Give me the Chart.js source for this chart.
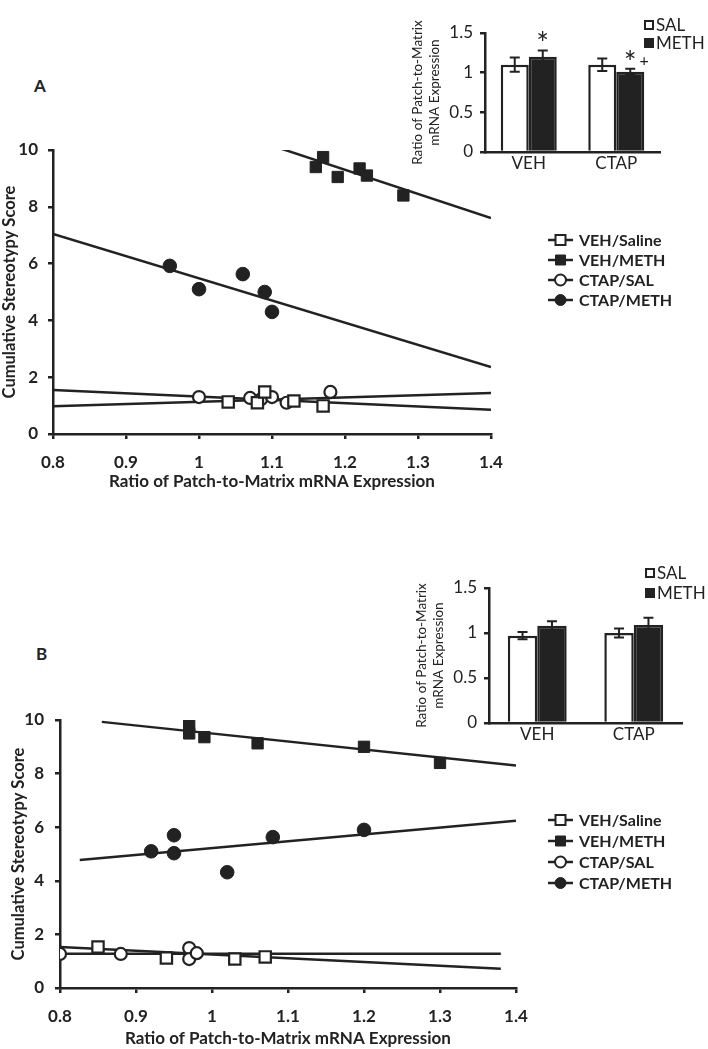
<!DOCTYPE html>
<html>
<head>
<meta charset="utf-8">
<script src="https://cdn.jsdelivr.net/npm/chart.js"></script>
<style>
    html, body { margin: 0; padding: 0; background: #fff; }
    body { width: 708px; height: 1049px; position: relative; overflow: hidden; font-family: Lato, 'Noto Sans', sans-serif; }
    canvas { position: absolute; }
    .panel { position: absolute; font: bold 17px Lato, sans-serif; color: #222; }
</style>
</head>
<body>
<div class="panel" style="left:34px;top:75px">A</div>
<div class="panel" style="left:36px;top:643px">B</div>
<canvas id="scatterA" width="708" height="406" style="left:0;top:90px"></canvas>
<canvas id="scatterB" width="708" height="409" style="left:0;top:640px"></canvas>
<canvas id="insetA" width="318" height="182" style="left:390px;top:0"></canvas>
<canvas id="insetB" width="318" height="200" style="left:390px;top:550px"></canvas>
<script>
const INK = '#222';
const seriesNames = ['VEH/Saline', 'VEH/METH', 'CTAP/SAL', 'CTAP/METH'];

// panel A scatter: [ratio, stereotypy score]
const vehSalA = [[1.04, 1.13], [1.08, 1.10], [1.09, 1.48], [1.13, 1.16], [1.17, 0.99]];
const vehMethA = [[1.16, 9.4], [1.17, 9.75], [1.19, 9.05], [1.22, 9.35], [1.23, 9.1], [1.28, 8.4]];
const ctapSalA = [[1.00, 1.30], [1.07, 1.27], [1.085, 1.22], [1.10, 1.30], [1.12, 1.10], [1.18, 1.48]];
const ctapMethA = [[0.96, 5.92], [1.00, 5.1], [1.06, 5.63], [1.09, 5.0], [1.10, 4.3]];
// trend lines, end points as drawn in the figure
const fitVehSalA = [[0.8, 1.55], [1.4, 0.85]];
const fitVehMethA = [[1.077, 10.35], [1.4, 7.6]];
const fitCtapSalA = [[0.8, 0.98], [1.4, 1.44]];
const fitCtapMethA = [[0.8, 7.04], [1.4, 2.36]];

// panel B scatter
const vehSalB = [[0.85, 1.53], [0.94, 1.12], [1.03, 1.08], [1.07, 1.16]];
const vehMethB = [[0.97, 9.81], [0.97, 9.5], [0.99, 9.36], [1.06, 9.13], [1.20, 9.0], [1.30, 8.4]];
const ctapSalB = [[0.80, 1.27], [0.88, 1.27], [0.97, 1.49], [0.97, 1.08], [0.98, 1.30]];
const ctapMethB = [[0.92, 5.1], [0.95, 5.7], [0.95, 5.03], [1.02, 4.32], [1.08, 5.63], [1.20, 5.9]];
const fitVehSalB = [[0.8, 1.53], [1.38, 0.72]];
const fitVehMethB = [[0.855, 9.93], [1.4, 8.3]];
const fitCtapSalB = [[0.8, 1.28], [1.38, 1.28]];
const fitCtapMethB = [[0.826, 4.78], [1.4, 6.24]];

// insets: mean ratio +/- error
const groups = ['VEH', 'CTAP'];
const salA = [1.10, 1.10];
const salErrA = [0.09, 0.08];
const methA = [1.20, 1.01];
const methErrA = [0.08, 0.04];
const methMarksA = ['*', '*+'];

const salB = [0.97, 1.00];
const salErrB = [0.04, 0.05];
const methB = [1.08, 1.09];
const methErrB = [0.05, 0.08];
const methMarksB = ['', ''];

function drawMarker(ctx, style, cx, cy, r, fill, lw) {
    ctx.beginPath();
    if (style === 'rect') ctx.rect(cx - r, cy - r, 2 * r, 2 * r);
    else ctx.arc(cx, cy, r, 0, Math.PI * 2);
    ctx.fillStyle = fill;
    ctx.fill();
    ctx.lineWidth = lw;
    ctx.strokeStyle = INK;
    ctx.stroke();
}

// Excel-like legend: short line with the marker in its middle
function lineLegend(x, ys) {
    return {
        id: 'lineLegend',
        afterDraw(chart) {
            const ctx = chart.ctx;
            const items = chart.data.datasets.filter(d => d.inLegend);
            ctx.save();
            ctx.font = 'bold 16px Lato, sans-serif';
            ctx.textBaseline = 'middle';
            items.forEach((d, i) => {
                const y = ys[i];
                ctx.beginPath();
                ctx.moveTo(x, y);
                ctx.lineTo(x + 25, y);
                ctx.lineWidth = 2.5;
                ctx.strokeStyle = INK;
                ctx.stroke();
                const open = d.backgroundColor === '#fff';
                drawMarker(ctx, d.pointStyle, x + 12.5, y, d.pointStyle === 'rect' ? 5 : 5.5, d.backgroundColor, open ? 2 : 1);
                ctx.fillStyle = INK;
                ctx.fillText(d.label, x + 31, y + 1);
            });
            ctx.restore();
        }
    };
}

function scatterPanel(id, sets, fits, lay) {
    const styles = [['rect', '#fff'], ['rect', INK], ['circle', '#fff'], ['circle', INK]];
    const datasets = sets.map((pts, i) => ({
        type: 'scatter',
        label: seriesNames[i],
        data: pts.map(p => ({ x: p[0], y: p[1] })),
        pointStyle: styles[i][0],
        pointRadius: styles[i][0] === 'rect' ? 8 : (styles[i][1] === '#fff' ? 6 : 6.8),
        backgroundColor: styles[i][1],
        borderColor: INK,
        borderWidth: styles[i][1] === '#fff' ? 2.2 : 1,
        inLegend: true,
        order: 1,
    }));
    fits.forEach(f => datasets.push({
        type: 'line',
        data: f.map(p => ({ x: p[0], y: p[1] })),
        borderColor: INK,
        borderWidth: 2.5,
        pointRadius: 0,
        fill: false,
        order: 2,
    }));

    new Chart(document.getElementById(id), {
        type: 'scatter',
        data: { datasets },
        plugins: [lineLegend(548, lay.legendY)],
        options: {
            responsive: false,
            animation: false,
            events: [],
            layout: { padding: { top: lay.top, right: lay.right, left: 0, bottom: 0 } },
            plugins: { legend: { display: false }, tooltip: { enabled: false } },
            scales: {
                x: {
                    type: 'linear',
                    min: 0.8,
                    max: 1.4,
                    ticks: {
                        stepSize: 0.1,
                        padding: 13,
                        color: INK,
                        font: { family: 'Lato', size: 17, weight: 'bold' },
                        callback: v => String(Math.round(v * 10) / 10),
                    },
                    grid: { drawOnChartArea: false, tickLength: 5, color: INK, lineWidth: 2.5 },
                    border: { color: INK, width: 2.5 },
                    title: {
                        display: true,
                        text: 'Ratio of Patch-to-Matrix mRNA Expression',
                        color: INK,
                        font: { family: 'Lato', size: 17, weight: 'bold' },
                        padding: { top: 0, bottom: lay.xTitlePad },
                    },
                    afterFit(s) { s.height = lay.xHeight; },
                },
                y: {
                    min: 0,
                    max: 10,
                    ticks: {
                        stepSize: 2,
                        padding: lay.yTickPad,
                        color: INK,
                        font: { family: 'Lato', size: 17, weight: 'bold' },
                    },
                    grid: { drawOnChartArea: false, tickLength: 5, color: INK, lineWidth: 2.5 },
                    border: { color: INK, width: 2.5 },
                    title: {
                        display: true,
                        text: 'Cumulative Stereotypy Score',
                        color: INK,
                        font: { family: 'Lato', size: 16.5, weight: 'bold' },
                        padding: { top: lay.yTitlePad, bottom: 0 },
                    },
                    afterFit(s) { s.width = lay.yWidth; },
                },
            },
        },
    });
}

const errorBars = {
    id: 'errorBars',
    afterDatasetsDraw(chart) {
        const ctx = chart.ctx;
        const y = chart.scales.y;
        chart.data.datasets.forEach((ds, i) => {
            chart.getDatasetMeta(i).data.forEach((bar, j) => {
                const v = ds.data[j], e = ds.errors[j];
                const top = y.getPixelForValue(v + e);
                const bot = y.getPixelForValue(v - e);
                ctx.save();
                ctx.strokeStyle = INK;
                ctx.lineWidth = 2;
                ctx.beginPath();
                ctx.moveTo(bar.x, top); ctx.lineTo(bar.x, bot);
                ctx.moveTo(bar.x - 5, top); ctx.lineTo(bar.x + 5, top);
                ctx.moveTo(bar.x - 5, bot); ctx.lineTo(bar.x + 5, bot);
                ctx.stroke();
                const mark = ds.marks && ds.marks[j];
                if (mark) {
                    ctx.fillStyle = INK;
                    ctx.textAlign = 'center';
                    ctx.textBaseline = 'alphabetic';
                    ctx.font = '30px Lato, sans-serif';
                    ctx.fillText('*', bar.x, top + 4);
                    if (mark.includes('+')) {
                        ctx.font = '16px Lato, sans-serif';
                        ctx.fillText('+', bar.x + 14, top - 3);
                    }
                }
                ctx.restore();
            });
        });
    }
};

function boxLegend(x, ys) {
    return {
        id: 'boxLegend',
        afterDraw(chart) {
            const ctx = chart.ctx;
            ctx.save();
            ctx.font = '17px Lato, sans-serif';
            ctx.textBaseline = 'middle';
            chart.data.datasets.forEach((d, i) => {
                ctx.beginPath();
                ctx.rect(x - 4, ys[i] - 4, 8, 8);
                ctx.fillStyle = d.backgroundColor;
                ctx.fill();
                ctx.lineWidth = 2;
                ctx.strokeStyle = INK;
                ctx.stroke();
                ctx.fillStyle = INK;
                ctx.fillText(d.label, x + 7, ys[i] + 1);
            });
            ctx.restore();
        }
    };
}

function insetPanel(id, sal, salErr, meth, methErr, marks, lay) {
    new Chart(document.getElementById(id), {
        type: 'bar',
        data: {
            labels: groups,
            datasets: [
                { label: 'SAL', data: sal, errors: salErr, backgroundColor: '#fff', borderColor: INK, borderWidth: 2.5 },
                { label: 'METH', data: meth, errors: methErr, marks, backgroundColor: INK, borderColor: INK, borderWidth: 2.5 },
            ],
        },
        plugins: [errorBars, boxLegend(lay.legendX, lay.legendY)],
        options: {
            responsive: false,
            animation: false,
            events: [],
            categoryPercentage: lay.catPct,
            barPercentage: 1.0,
            layout: { padding: { top: lay.top, right: lay.right, left: 0, bottom: 0 } },
            plugins: { legend: { display: false }, tooltip: { enabled: false } },
            scales: {
                x: {
                    ticks: { padding: 1, color: INK, font: { family: 'Lato', size: 17 } },
                    grid: { drawOnChartArea: false, drawTicks: false },
                    border: { color: INK, width: 2.5 },
                    afterFit(s) { s.height = lay.xHeight; },
                },
                y: {
                    min: 0,
                    max: 1.5,
                    ticks: {
                        stepSize: 0.5,
                        padding: 7,
                        color: INK,
                        font: { family: 'Lato', size: 17 },
                        callback: v => String(Math.round(v * 10) / 10),
                    },
                    grid: { drawOnChartArea: false, tickLength: 5, color: INK, lineWidth: 2.5 },
                    border: { color: INK, width: 2.5 },
                    title: {
                        display: true,
                        text: ['Ratio of Patch-to-Matrix', 'mRNA Expression'],
                        color: INK,
                        font: { family: 'Lato', size: 13.5, lineHeight: 1.25 },
                        padding: { top: lay.titlePad, bottom: 0 },
                    },
                    afterFit(s) { s.width = lay.yWidth; },
                },
            },
        },
    });
}

scatterPanel('scatterA', [vehSalA, vehMethA, ctapSalA, ctapMethA],
    [fitVehSalA, fitVehMethA, fitCtapSalA, fitCtapMethA],
    { top: 60, right: 217, xHeight: 62, xTitlePad: 4, yWidth: 53, yTickPad: 10, yTitlePad: 0, legendY: [150, 170, 190, 210] });

scatterPanel('scatterB', [vehSalB, vehMethB, ctapSalB, ctapMethB],
    [fitVehSalB, fitVehMethB, fitCtapSalB, fitCtapMethB],
    { top: 80, right: 192, xHeight: 61, xTitlePad: 0, yWidth: 60, yTickPad: 11, yTitlePad: 9, legendY: [180, 201, 222, 243] });

insetPanel('insetA', salA, salErrA, methA, methErrA, methMarksA,
    { top: 33, right: 48, xHeight: 30, yWidth: 95, titlePad: 19.5, catPct: 0.64, legendX: 259, legendY: [25, 43] });

insetPanel('insetB', salB, salErrB, methB, methErrB, methMarksB,
    { top: 38, right: 26, xHeight: 27, yWidth: 99, titlePad: 23.5, catPct: 0.61, legendX: 260, legendY: [23, 43] });
</script>
</body>
</html>
